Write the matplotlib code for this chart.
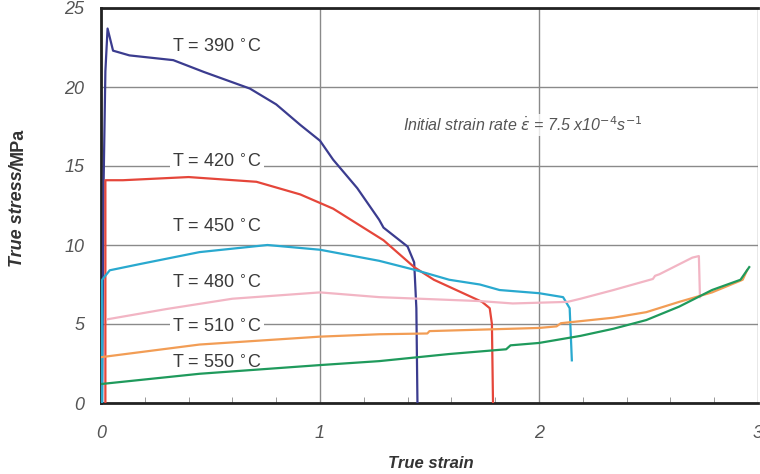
"""
True stress vs true strain curves of the alloy at six test temperatures,
all at the same initial strain rate.
"""

import matplotlib.pyplot as plt
from matplotlib.ticker import MultipleLocator

# Curve data (strain, stress in MPa).
strain_390 = [0.005, 0.012, 0.02, 0.03, 0.055, 0.13, 0.33, 0.47, 0.68, 0.80, 0.91, 1.0, 1.06,
              1.17, 1.27, 1.29, 1.40, 1.43, 1.44, 1.445]
stress_390 = [0.0, 14.0, 21.0, 23.7, 22.3, 22.0, 21.7, 20.95, 19.9, 18.9, 17.6, 16.6, 15.4,
              13.6, 11.6, 11.1, 9.9, 8.9, 6.0, 0.0]

strain_420 = [0.02, 0.02, 0.1, 0.4, 0.71, 0.91, 1.06, 1.29, 1.43, 1.52, 1.74, 1.775, 1.785, 1.79]
stress_420 = [0.0, 14.1, 14.1, 14.3, 14.0, 13.2, 12.3, 10.3, 8.6, 7.8, 6.4, 6.0, 5.0, 0.0]

strain_450 = [0.005, 0.005, 0.04, 0.18, 0.45, 0.76, 1.0, 1.27, 1.44, 1.59, 1.73, 1.82, 2.0,
              2.11, 2.14, 2.15]
stress_450 = [0.0, 7.8, 8.4, 8.8, 9.55, 10.0, 9.7, 9.0, 8.4, 7.8, 7.5, 7.15, 6.95,
              6.7, 6.0, 2.7]

strain_480 = [0.03, 0.3, 0.6, 1.0, 1.27, 1.73, 1.88, 2.13, 2.19, 2.34, 2.52, 2.53, 2.55,
              2.70, 2.73, 2.735]
stress_480 = [5.3, 5.95, 6.6, 7.0, 6.7, 6.45, 6.3, 6.4, 6.6, 7.15, 7.85, 8.05, 8.15,
              9.2, 9.3, 6.7]

strain_510 = [0.0, 0.45, 1.0, 1.27, 1.49, 1.5, 2.0, 2.08, 2.1, 2.34, 2.49, 2.64, 2.79, 2.93, 2.95]
stress_510 = [2.9, 3.7, 4.2, 4.35, 4.4, 4.55, 4.75, 4.85, 5.05, 5.4, 5.75, 6.4, 7.0, 7.8, 8.4]

strain_550 = [0.0, 0.45, 1.0, 1.27, 1.59, 1.85, 1.87, 2.0, 2.19, 2.34, 2.49, 2.64, 2.79, 2.92, 2.96]
stress_550 = [1.2, 1.85, 2.4, 2.65, 3.1, 3.4, 3.65, 3.8, 4.25, 4.7, 5.25, 6.1, 7.15, 7.8, 8.6]

temps = [390, 420, 450, 480, 510, 550]
label_y = [22.5, 15.2, 11.1, 7.6, 4.8, 2.5]
colors = ['#3b3c8f', '#e5463a', '#29a9cf', '#f2b5c4', '#f29d55', '#1f9a5c']

curves = [(strain_390, stress_390), (strain_420, stress_420), (strain_450, stress_450),
          (strain_480, stress_480), (strain_510, stress_510), (strain_550, stress_550)]

plt.rcParams['font.family'] = ['Liberation Sans', 'DejaVu Sans']

fig = plt.figure(figsize=(7.6, 4.74), dpi=100)
ax = fig.add_axes([101 / 760, 71 / 474, 657 / 760, 395 / 474])

for (x, y), c in zip(curves, colors):
    ax.plot(x, y, color=c, lw=1.6, zorder=3)

# Temperature labels sit over the grid but under the curves
for t, ly in zip(temps, label_y):
    ax.text(0.53, ly, f'T = {t} $^{{\\circ}}$C', ha='center', va='center', fontsize=13,
            color='#3a3a3a', zorder=2,
            bbox=dict(facecolor='white', edgecolor='none', pad=2))

ax.text(1.38, 17.6, r'Initial strain rate $\dot{\varepsilon}$ = 7.5 x10$^{-4}$s$^{-1}$',
        ha='left', va='center', fontsize=11.5, style='italic', color='#555555', zorder=4,
        bbox=dict(facecolor='white', edgecolor='none', pad=1, alpha=0.8))

ax.set_xlim(0, 3)
ax.set_ylim(0, 25)
ax.xaxis.set_major_locator(MultipleLocator(1))
ax.xaxis.set_minor_locator(MultipleLocator(0.2))
ax.yaxis.set_major_locator(MultipleLocator(5))
ax.grid(True, which='major', color='#8a8a8a', lw=1.0, zorder=1)

ax.tick_params(axis='both', which='major', length=0, labelsize=13, labelcolor='#555555')
ax.tick_params(axis='x', which='major', pad=16)
ax.tick_params(axis='y', which='major', pad=12)
ax.tick_params(axis='x', which='minor', direction='in', length=4, color='#888888')
for lab in ax.get_xticklabels() + ax.get_yticklabels():
    lab.set_style('italic')

for side in ['left', 'bottom', 'top']:
    ax.spines[side].set_color('#222222')
    ax.spines[side].set_linewidth(2)
ax.spines['right'].set_visible(False)

# Axis titles: italic name part, upright unit on the y axis
fig.text(18 / 760, 0.652, 'True stress/', rotation=90, ha='center', va='top',
         fontsize=13, weight='bold', style='italic', color='#333333')
fig.text(18 / 760, 0.652, 'MPa', rotation=90, ha='center', va='bottom',
         fontsize=13, weight='bold', color='#333333')
fig.text(431 / 760, 11 / 474, 'True strain', ha='center', va='center',
         fontsize=12, weight='bold', style='italic', color='#333333')

fig.savefig('out.png', dpi=100, facecolor='white')
